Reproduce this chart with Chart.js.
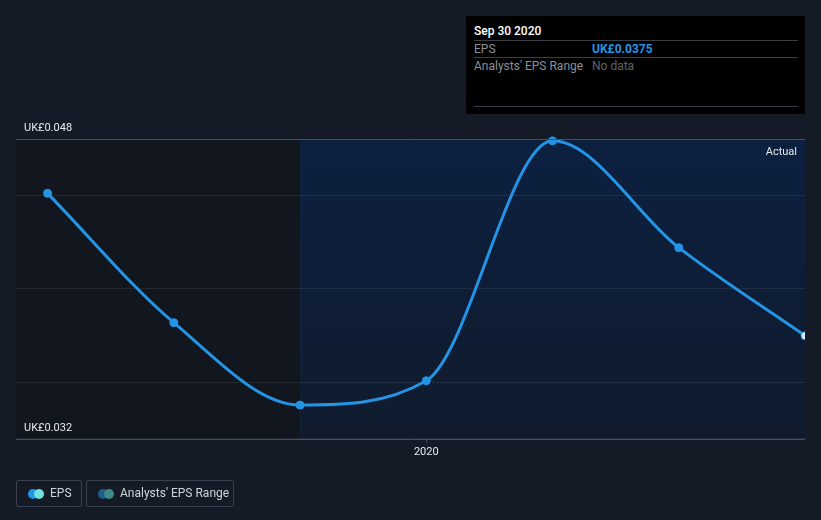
<!DOCTYPE html>
<html>
<head>
<meta charset="utf-8">
<script src="https://cdn.jsdelivr.net/npm/chart.js@4.4.0/dist/chart.umd.min.js"></script>
<style>
  html, body { margin: 0; padding: 0; background: #151b26; }
  body { width: 821px; height: 520px; position: relative; overflow: hidden; font-family: Roboto, "Noto Sans", sans-serif; }
  #wrap { position: absolute; left: 0; top: 0; width: 821px; height: 520px; }
  .tip { position: absolute; left: 466px; top: 16px; width: 339px; height: 98px; background: #000; }
  .tip .t { position: absolute; left: 8px; top: 8px; color: #fff; font-size: 12px; font-weight: 500; }
  .tip .row { position: absolute; left: 8px; width: 324px; border-top: 1px solid #3a3f47; font-size: 12px; }
  .tip .row span { position: absolute; top: 1px; }
  .legend { position: absolute; top: 480px; height: 25px; border: 1px solid #3b414c; border-radius: 2px; color: #d0d3d8; font-size: 12px; }
  .legend .dots { position: absolute; left: 11px; top: 8px; width: 16px; height: 10px; }
  .legend .dots i { position: absolute; top: 0; width: 10px; height: 10px; border-radius: 5px; }
  .legend .lab { position: absolute; left: 33px; top: 5px; }
</style>
</head>
<body>
<div id="wrap"><canvas id="chart" width="821" height="520"></canvas></div>

<div class="tip">
  <div class="t">Sep 30 2020</div>
  <div class="row" style="top:24px"><span style="left:0;color:#8a9099">EPS</span><span style="left:118px;color:#2394e6;font-weight:700">UK£0.0375</span></div>
  <div class="row" style="top:41px"><span style="left:0;color:#8a9099">Analysts' EPS Range</span><span style="left:118px;color:#5d636b">No data</span></div>
  <div class="row" style="top:90px"></div>
</div>

<div class="legend" style="left:16px;width:64px">
  <div class="dots"><i style="left:0;background:#2394e6"></i><i style="left:6px;background:#6fe3db"></i></div>
  <div class="lab">EPS</div>
</div>
<div class="legend" style="left:86px;width:146px">
  <div class="dots"><i style="left:0;background:#1f5e8c"></i><i style="left:6px;background:#3e8a86"></i></div>
  <div class="lab">Analysts' EPS Range</div>
</div>

<script>
// quarters: Mar 2019 .. Sep 2020 (index on x axis)
const periods = ['Mar 2019', 'Jun 2019', 'Sep 2019', 'Dec 2019', 'Mar 2020', 'Jun 2020', 'Sep 2020'];
const epsValues = [0.0451, 0.0382, 0.0338, 0.0351, 0.0479, 0.0422, 0.0375];
const yTickValues = [0.032, 0.035, 0.040, 0.045, 0.048];
const yLabelValues = [0.048, 0.032];
const xTickLabels = [{ value: 3, label: '2020' }];
const forecastStart = 2; // Sep 2019: start of the shaded "Actual" band

const bands = {
  id: 'bands',
  beforeDraw(chart) {
    const { ctx, chartArea: a, scales: { x } } = chart;
    const split = x.getPixelForValue(forecastStart);
    ctx.save();
    ctx.fillStyle = '#12161e';
    ctx.fillRect(a.left, a.top, split - a.left, a.bottom - a.top);
    const g = ctx.createLinearGradient(0, a.top, 0, a.bottom);
    g.addColorStop(0, '#0c2040');
    g.addColorStop(1, '#101b2d');
    ctx.fillStyle = g;
    ctx.fillRect(split, a.top, a.right - split, a.bottom - a.top);
    ctx.fillStyle = 'rgba(60,90,130,0.1)';
    ctx.fillRect(Math.round(split), a.top, 1, a.bottom - a.top);
    ctx.restore();
  },
  afterDraw(chart) {
    const { ctx, chartArea: a, scales: { y } } = chart;
    ctx.save();
    // lines at top/bottom of range
    ctx.strokeStyle = '#4a505b';
    ctx.lineWidth = 1;
    yLabelValues.forEach(v => {
      const py = Math.round(y.getPixelForValue(v)) + 0.5;
      ctx.beginPath(); ctx.moveTo(a.left, py); ctx.lineTo(a.right, py); ctx.stroke();
    });
    ctx.fillStyle = '#e6e8eb';
    ctx.font = '11px Roboto, sans-serif';
    ctx.textBaseline = 'alphabetic';
    yLabelValues.forEach(v => {
      ctx.fillText('UK£' + v.toFixed(3), a.left + 8, y.getPixelForValue(v) - 8);
    });
    ctx.textAlign = 'right';
    ctx.fillText('Actual', a.right - 8, a.top + 16);
    ctx.restore();
  }
};

const n = epsValues.length;
new Chart(document.getElementById('chart'), {
  type: 'line',
  data: {
    datasets: [{
      label: 'EPS',
      data: epsValues.map((v, i) => ({ x: i, y: v })),
      borderColor: '#2394e6',
      borderWidth: 3,
      cubicInterpolationMode: 'monotone',
      pointRadius: 4,
      pointHoverRadius: 4,
      pointBorderWidth: 1,
      pointBackgroundColor: epsValues.map((v, i) => i === n - 1 ? '#d8ecfb' : '#2394e6'),
      pointBorderColor: '#2394e6',
      clip: { left: 0, right: 0, top: 10, bottom: 10 }
    }]
  },
  options: {
    responsive: false,
    animation: false,
    layout: { padding: { left: 16, right: 16, top: 139, bottom: 58 } },
    plugins: { legend: { display: false }, tooltip: { enabled: false } },
    scales: {
      x: {
        type: 'linear',
        min: -0.25,
        max: n - 1,
        afterBuildTicks: s => { s.ticks = xTickLabels.map(t => ({ value: t.value })); },
        ticks: {
          color: '#e6e8eb',
          font: { family: 'Roboto', size: 11 },
          padding: 3,
          maxRotation: 0,
          callback: v => (xTickLabels.find(t => t.value === v) || {}).label
        },
        grid: { drawOnChartArea: false, drawTicks: true, tickLength: 4, color: '#4a505b' },
        border: { display: false }
      },
      y: {
        min: yTickValues[0],
        max: yTickValues[yTickValues.length - 1],
        afterBuildTicks: s => { s.ticks = yTickValues.map(v => ({ value: v })); },
        ticks: { display: false },
        grid: { color: 'rgba(255,255,255,0.08)', drawTicks: false },
        border: { display: false }
      }
    }
  },
  plugins: [bands]
});
</script>
</body>
</html>
